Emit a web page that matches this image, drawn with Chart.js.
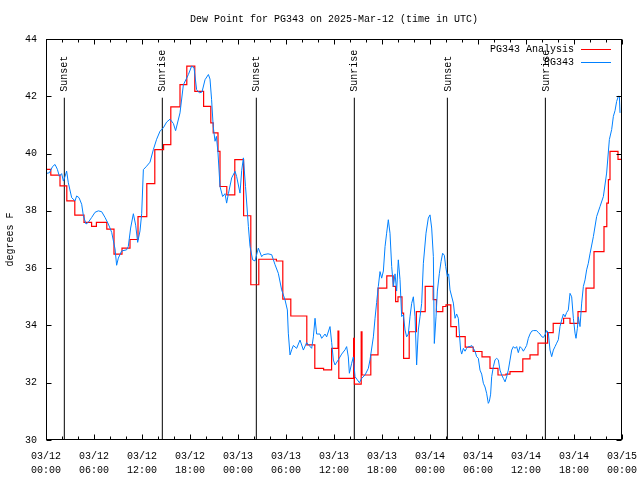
<!DOCTYPE html>
<html>
<head>
<meta charset="utf-8">
<title>Dew Point for PG343</title>
<script src="https://cdn.jsdelivr.net/npm/chart.js@4.4.1/dist/chart.umd.min.js"></script>
<style>
  html, body { margin: 0; padding: 0; background: #fff; }
  #wrap { width: 640px; height: 480px; }
</style>
</head>
<body>
<div id="wrap"><canvas id="chart" width="640" height="480"></canvas></div>
<script>
// --- datos (horas desde 03/12 00:00 UTC) ---
const dayLabels = ["03/12", "03/13", "03/14", "03/15"];
const yTicks = [30, 32, 34, 36, 38, 40, 42, 44];

// analisis: valor vigente desde cada hora hasta la siguiente
const redHours = [0, 0.6, 1.75, 2.6, 3.6, 4.75, 5.7, 6.3, 7.6, 8.5, 9.5, 10.5, 11.5, 12.6, 13.6,
  14.7, 15.6, 16.75, 17.6, 18.6, 19.7, 20.6, 20.9, 21.5, 21.75, 22.6, 23.6, 24.7, 25.6, 26.6,
  28.8, 29.6, 30.6, 32.6, 33.6, 34.7, 35.7, 36.5, 36.6, 38.45, 38.55, 39.4, 39.5, 40.6, 41.5,
  42.6, 43.4, 43.7, 44.0, 44.5, 44.7, 45.4, 46.3, 47.4, 48.4, 48.8, 49.6, 50.0, 50.6, 51.3,
  52.4, 53.4, 54.5, 55.5, 56.5, 57.5, 58.0, 59.6, 60.5, 61.5, 62.7, 63.4, 64.7, 65.5, 66.5,
  67.5, 68.5, 69.75, 70.1, 70.3, 70.5, 71.5, 72];
const redValues = [39.45, 39.25, 38.87, 38.35, 37.85, 37.6, 37.46, 37.6, 37.36, 36.49, 36.7, 37.0, 37.8, 38.95, 40.14,
  40.31, 41.63, 42.41, 43.05, 42.17, 41.65, 41.07, 40.72, 40.08, 38.85, 38.56, 39.79, 37.83, 35.42, 36.31,
  36.25, 34.92, 34.33, 33.32, 32.5, 32.45, 33.2, 33.8, 32.15, 33.55, 31.95, 33.78, 32.27, 32.97, 35.3,
  35.73, 35.36, 34.83, 35.0, 34.43, 32.85, 33.78, 34.48, 35.36, 34.9, 34.48, 34.66, 34.72, 33.96, 33.61,
  33.24, 33.09, 32.9, 32.5, 32.27, 32.3, 32.39, 32.83, 32.97, 33.38, 33.75, 34.07, 34.25, 34.07, 34.48,
  35.3, 36.58, 37.45, 38.27, 39.09, 40.08, 39.8, 39.8];

// observaciones de la estacion
const blueHours = [0.08, 0.42, 0.83, 1.13, 1.42, 1.67, 1.96, 2.17, 2.38, 2.58, 2.79, 3.21, 3.63, 3.83, 4.13,
  4.46, 4.67, 5.0, 5.29, 5.71, 6.13, 6.54, 6.96, 7.38, 7.79, 8.21, 8.63, 8.83, 9.04, 9.46,
  10.08, 10.29, 10.58, 10.92, 11.21, 11.46, 11.75, 11.96, 12.17, 12.58, 13.0, 13.42, 13.83, 14.25, 14.67,
  15.08, 15.5, 15.92, 16.2, 16.75, 17.17, 17.8, 18.2, 18.5, 18.83, 19.17, 19.5, 19.88, 20.3, 20.5,
  20.7, 20.9, 21.13, 21.3, 21.5, 21.75, 22.08, 22.38, 22.58, 22.8, 23.21, 23.63, 23.83, 24.25, 24.46,
  24.67, 24.94, 25.3, 25.5, 25.83, 26.13, 26.54, 26.96, 27.17, 27.75, 28.21, 28.63, 29.04, 29.46, 29.88,
  30.17, 30.29, 30.5, 30.71, 30.92, 31.33, 31.75, 32.17, 32.58, 33.21, 33.42, 33.63, 33.83, 34.25, 34.46,
  34.88, 35.08, 35.5, 35.71, 35.92, 36.13, 36.54, 36.96, 37.38, 37.58, 37.79, 37.92, 38.21, 38.42, 38.63,
  38.92, 39.17, 39.46, 39.88, 40.29, 40.5, 40.92, 41.13, 41.33, 41.54, 41.75, 41.96, 42.17, 42.38, 42.58,
  42.79, 43.0, 43.21, 43.42, 43.63, 43.83, 44.04, 44.25, 44.46, 44.67, 44.88, 45.08, 45.29, 45.5, 45.71,
  45.92, 46.13, 46.33, 46.54, 46.75, 46.96, 47.17, 47.5, 47.79, 48.0, 48.21, 48.42, 48.54, 48.75, 48.92,
  49.17, 49.38, 49.58, 49.79, 49.96, 50.17, 50.33, 50.5, 50.92, 51.13, 51.33, 51.54, 51.67, 51.83, 51.96,
  52.17, 52.38, 52.58, 52.79, 53.0, 53.21, 53.42, 53.63, 53.83, 54.04, 54.25, 54.46, 54.67, 54.88, 55.08,
  55.29, 55.42, 55.58, 55.71, 55.92, 56.13, 56.33, 56.54, 56.75, 56.96, 57.17, 57.38, 57.58, 57.79, 58.0,
  58.21, 58.42, 58.63, 58.83, 59.04, 59.25, 59.46, 59.67, 59.88, 60.08, 60.29, 60.5, 60.71, 60.92, 61.33,
  61.54, 61.75, 61.96, 62.17, 62.38, 62.58, 62.79, 63.0, 63.21, 63.42, 63.63, 63.83, 64.04, 64.25, 64.46,
  64.67, 64.88, 65.08, 65.29, 65.5, 65.71, 65.92, 66.13, 66.25, 66.42, 66.54, 66.75, 66.96, 67.17, 67.38,
  67.58, 67.79, 68.0, 68.42, 68.83, 69.25, 69.67, 70.08, 70.42, 70.71, 70.92, 71.13, 71.33, 71.54, 71.67,
  71.75];
const blueValues = [39.31, 39.33, 39.55, 39.62, 39.45, 39.21, 39.3, 39.04, 39.2, 39.39, 38.98, 38.46, 38.35, 38.52, 38.46,
  38.23, 37.83, 37.54, 37.6, 37.77, 37.95, 38.0, 37.97, 37.77, 37.54, 37.25, 36.67, 36.1, 36.35, 36.6,
  36.64, 36.76, 37.4, 37.9, 37.5, 36.9, 37.3, 37.9, 39.44, 39.56, 39.7, 40.14, 40.5, 40.78, 40.9,
  41.1, 41.2, 41.05, 40.8, 41.42, 42.4, 42.76, 43.05, 43.0, 42.23, 42.12, 42.15, 42.58, 42.76, 42.6,
  41.88, 40.95, 40.43, 40.6, 40.02, 38.85, 38.5, 38.6, 38.27, 38.6, 39.15, 39.38, 39.2, 38.62, 39.4,
  39.85, 38.85, 37.45, 36.76, 36.29, 36.25, 36.7, 36.4, 36.47, 36.5, 36.47, 36.12, 35.82, 35.24, 34.89,
  34.54, 33.73, 32.97, 33.15, 33.3, 33.2, 33.49, 33.14, 33.4, 33.2, 33.6, 34.25, 33.7, 33.7, 33.55,
  33.7, 33.6, 33.96, 33.4, 32.79, 32.62, 32.8, 33.0, 33.15, 33.26, 32.9, 32.33, 32.68, 32.9, 32.21,
  32.1, 32.0, 32.15, 32.27, 32.5, 32.8, 33.6, 34.25, 34.8, 35.36, 35.88, 35.65, 35.9, 36.75, 37.22,
  37.69, 37.22, 36.06, 35.36, 35.8, 35.2, 36.29, 35.6, 34.31, 34.37, 33.84, 33.6, 33.7, 34.3, 34.77,
  35.0, 34.3, 32.62, 33.84, 34.3, 34.77, 36.17, 37.22, 37.75, 37.86, 37.4, 36.4, 33.37, 34.3, 35.2,
  35.82, 36.23, 36.52, 36.45, 36.06, 35.71, 35.8, 35.24, 34.78, 34.25, 34.4, 34.25, 33.73, 33.14, 33.0,
  33.2, 33.1, 33.2, 33.26, 33.26, 33.3, 33.2, 33.1, 32.91, 32.85, 32.44, 32.3, 31.98, 31.85, 31.63,
  31.28, 31.35, 31.6, 32.21, 32.56, 32.8, 32.85, 32.8, 32.44, 32.27, 32.15, 32.03, 32.2, 32.44, 32.79,
  33.14, 33.26, 33.2, 33.26, 33.05, 33.26, 33.2, 33.1, 33.2, 33.3, 33.55, 33.7, 33.8, 33.82, 33.82,
  33.75, 33.7, 33.61, 33.58, 33.67, 33.82, 33.75, 33.14, 32.91, 33.14, 33.26, 33.38, 33.5, 33.96, 34.19,
  34.4, 34.3, 34.45, 34.54, 35.12, 35.0, 34.25, 33.73, 33.55, 33.9, 34.3, 33.96, 34.78, 35.36, 35.59,
  35.94, 36.17, 36.5, 37.1, 37.8, 38.15, 38.5, 39.32, 40.49, 40.84, 41.3, 41.5, 41.82, 42.0, 42.0,
  41.42];

// salida / puesta del sol
const sunHours = [2.29, 14.54, 26.29, 38.54, 50.17, 62.42];
const sunLabels = ["Sunset", "Sunrise", "Sunset", "Sunrise", "Sunset", "Sunrise"];
const sunTop = 41.95;

const FONT = "Liberation Mono, DejaVu Sans Mono, monospace";

const pairs = (xs, ys) => xs.map((x, i) => ({ x: x, y: ys[i] }));

const sunData = [];
sunHours.forEach((h) => {
  sunData.push({ x: h, y: 30 }, { x: h, y: sunTop }, { x: h, y: null });
});

// --- marco, marcas, titulo, leyenda y etiquetas del sol ---
const decor = {
  id: "decor",
  afterDatasetsDraw(chart) {
    const ctx = chart.ctx;
    const a = chart.chartArea;
    const xs = chart.scales.x;
    const ys = chart.scales.y;
    ctx.save();
    ctx.strokeStyle = "#000";
    ctx.lineWidth = 1;
    const L = Math.round(a.left) + 0.5, R = Math.round(a.right) - 0.5;
    const T = Math.round(a.top) + 0.5, B = Math.round(a.bottom) - 0.5;
    ctx.strokeRect(L, T, R - L, B - T);

    ctx.beginPath();
    for (let h = 0; h <= 72; h += 2) {
      const px = Math.round(xs.getPixelForValue(h)) + 0.5;
      const len = h % 6 === 0 ? 5 : 3;
      ctx.moveTo(px, B); ctx.lineTo(px, B - len);
      ctx.moveTo(px, T); ctx.lineTo(px, T + len);
    }
    yTicks.forEach((v) => {
      const py = Math.round(ys.getPixelForValue(v)) + 0.5;
      ctx.moveTo(L, py); ctx.lineTo(L + 5, py);
      ctx.moveTo(R, py); ctx.lineTo(R - 5, py);
    });
    ctx.stroke();

    // leyenda
    ctx.font = "10px " + FONT;
    ctx.fillStyle = "#000";
    ctx.textAlign = "right";
    ctx.textBaseline = "middle";
    const items = [["PG343 Analysis", "#ff0000", 49.5], ["PG343", "#0080ff", 62.5]];
    items.forEach(([txt, col, y]) => {
      ctx.fillText(txt, 574, y);
      ctx.strokeStyle = col;
      ctx.beginPath();
      ctx.moveTo(581, y); ctx.lineTo(611, y);
      ctx.stroke();
    });

    // etiquetas verticales
    ctx.fillStyle = "#000";
    ctx.textAlign = "left";
    sunHours.forEach((h, i) => {
      const px = xs.getPixelForValue(h);
      const py = ys.getPixelForValue(sunTop) - 6;
      ctx.save();
      ctx.translate(px + 0.5, py);
      ctx.rotate(-Math.PI / 2);
      ctx.fillText(sunLabels[i], 0, 0);
      ctx.restore();
    });

    // titulo
    ctx.textAlign = "center";
    ctx.fillText("Dew Point for PG343 on 2025-Mar-12 (time in UTC)", (a.left + a.right) / 2, 19);
    ctx.restore();
  },
};

new Chart(document.getElementById("chart"), {
  type: "line",
  data: {
    datasets: [
      {
        label: "PG343",
        data: pairs(blueHours, blueValues),
        borderColor: "#0080ff",
        borderWidth: 1,
        pointRadius: 0,
        tension: 0,
      },
      {
        label: "PG343 Analysis",
        data: pairs(redHours, redValues),
        borderColor: "#ff0000",
        borderWidth: 1.2,
        pointRadius: 0,
        stepped: true,
      },
      {
        label: "sun",
        data: sunData,
        borderColor: "#000",
        borderWidth: 1,
        pointRadius: 0,
        spanGaps: false,
      },
    ],
  },
  options: {
    responsive: false,
    animation: false,
    devicePixelRatio: 1,
    layout: { padding: { top: 39, right: 18, left: 0, bottom: 0 } },
    plugins: {
      legend: { display: false },
      tooltip: { enabled: false },
    },
    scales: {
      x: {
        type: "linear",
        min: 0,
        max: 72,
        grid: { display: false, drawTicks: false },
        border: { display: false },
        afterFit: (s) => {
          s.height = 40;
          s.paddingLeft = 0;
          s.paddingRight = 0;
        },
        afterBuildTicks: (s) => {
          s.ticks = [0, 6, 12, 18, 24, 30, 36, 42, 48, 54, 60, 66, 72].map((v) => ({ value: v }));
        },
        ticks: {
          autoSkip: false,
          maxRotation: 0,
          padding: 9,
          color: "#000",
          font: { family: FONT, size: 10, lineHeight: 1.4 },
          callback: (v) => {
            const hh = String(v % 24).padStart(2, "0");
            return [dayLabels[Math.floor(v / 24)], hh + ":00"];
          },
        },
      },
      y: {
        min: 30,
        max: 44,
        grid: { display: false, drawTicks: false },
        border: { display: false },
        afterFit: (s) => {
          s.width = 46;
          s.paddingTop = 0;
          s.paddingBottom = 0;
        },
        ticks: {
          stepSize: 2,
          padding: 9,
          color: "#000",
          font: { family: FONT, size: 10 },
        },
        title: {
          display: true,
          text: "degrees F",
          color: "#000",
          padding: { top: 4, bottom: 0 },
          font: { family: FONT, size: 10 },
        },
      },
    },
  },
  plugins: [decor],
});
</script>
</body>
</html>
